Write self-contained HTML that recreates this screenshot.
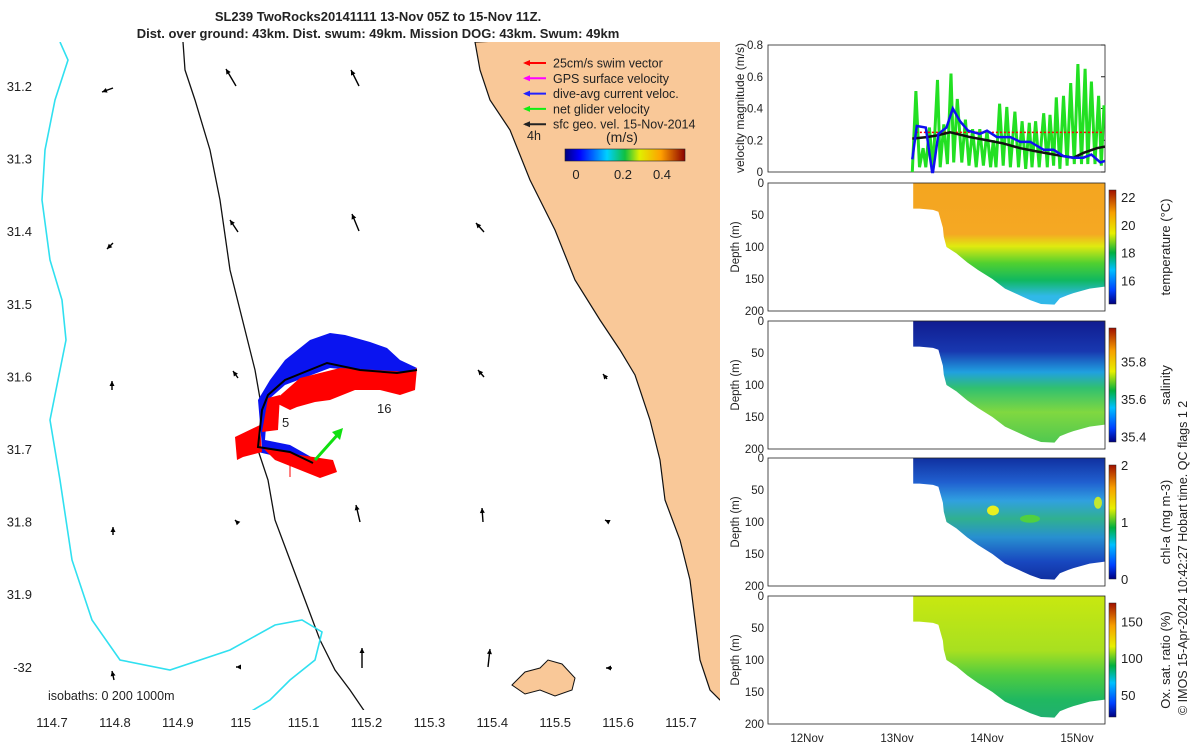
<!DOCTYPE html>
<html><head><meta charset="utf-8"><style>
body{margin:0;background:#fff;font-family:"Liberation Sans","DejaVu Sans",sans-serif}
svg text{font-family:"Liberation Sans","DejaVu Sans",sans-serif;fill:#222}
</style></head><body>
<svg id="fig" width="1200" height="750" viewBox="0 0 1200 750" xmlns="http://www.w3.org/2000/svg">
<defs>
<linearGradient id="jet" x1="0" x2="1" y1="0" y2="0"><stop offset="0" stop-color="#00007f"/><stop offset="0.12" stop-color="#0000ff"/><stop offset="0.35" stop-color="#00d0ff"/><stop offset="0.5" stop-color="#10c040"/><stop offset="0.62" stop-color="#e0f000"/><stop offset="0.8" stop-color="#ffa000"/><stop offset="1" stop-color="#8b0000"/></linearGradient>
<linearGradient id="jetv" x1="0" x2="0" y1="1" y2="0"><stop offset="0" stop-color="#00007f"/><stop offset="0.12" stop-color="#0040ff"/><stop offset="0.3" stop-color="#00c0ff"/><stop offset="0.45" stop-color="#00b040"/><stop offset="0.62" stop-color="#e8f000"/><stop offset="0.8" stop-color="#f8a000"/><stop offset="1" stop-color="#a01000"/></linearGradient>
<linearGradient id="gT" x1="0" x2="0" y1="0" y2="1"><stop offset="0" stop-color="#f4a520"/><stop offset="0.42" stop-color="#f5a823"/><stop offset="0.52" stop-color="#e0ea10"/><stop offset="0.66" stop-color="#50d030"/><stop offset="0.8" stop-color="#10b860"/><stop offset="0.93" stop-color="#30b8e8"/></linearGradient>
<linearGradient id="gS" x1="0" x2="0" y1="0" y2="1"><stop offset="0" stop-color="#101c90"/><stop offset="0.25" stop-color="#1838b0"/><stop offset="0.42" stop-color="#20a0e0"/><stop offset="0.55" stop-color="#30c070"/><stop offset="0.75" stop-color="#80d840"/><stop offset="1" stop-color="#50c850"/></linearGradient>
<linearGradient id="gC" x1="0" x2="0" y1="0" y2="1"><stop offset="0" stop-color="#1030a0"/><stop offset="0.2" stop-color="#2060d0"/><stop offset="0.35" stop-color="#30a0e0"/><stop offset="0.5" stop-color="#30b090"/><stop offset="0.65" stop-color="#2890d0"/><stop offset="0.85" stop-color="#1848c0"/><stop offset="1" stop-color="#1030a0"/></linearGradient>
<linearGradient id="gO" x1="0" x2="0" y1="0" y2="1"><stop offset="0" stop-color="#c8e810"/><stop offset="0.45" stop-color="#a8e020"/><stop offset="0.65" stop-color="#50cc40"/><stop offset="0.85" stop-color="#20b860"/><stop offset="1" stop-color="#20b070"/></linearGradient>
<clipPath id="mapclip"><rect x="37" y="42" width="683" height="668"/></clipPath>
</defs>
<g id="title">
<text x="378" y="21" text-anchor="middle" font-size="13" font-weight="bold">SL239 TwoRocks20141111 13-Nov 05Z to 15-Nov 11Z.</text>
<text x="378" y="38" text-anchor="middle" font-size="13" font-weight="bold">Dist. over ground: 43km. Dist. swum: 49km. Mission DOG: 43km. Swum: 49km</text>
</g>
<g id="map"></g>
<g id="right"></g>
<text transform="translate(1187,715) rotate(-90)" font-size="12.5">© IMOS 15-Apr-2024 10:42:27 Hobart time. QC flags 1  2</text>
</svg>
<script>
const NS="http://www.w3.org/2000/svg";
function mk(p,tag,a,txt){const e=document.createElementNS(NS,tag);for(const k in a)e.setAttribute(k,a[k]);if(txt!==undefined)e.textContent=txt;p.appendChild(e);return e;}
// ---------- Map ----------
const lonTicks=[114.7,114.8,114.9,115,115.1,115.2,115.3,115.4,115.5,115.6,115.7];
const latTicks=[31.2,31.3,31.4,31.5,31.6,31.7,31.8,31.9,32];
const latLabels=["31.2","31.3","31.4","31.5","31.6","31.7","31.8","31.9","-32"];
const mx=v=>52+(v-114.7)*629;
const my=v=>87+(v-31.2)*726;
const map=document.getElementById('map');
const mg=mk(map,'g',{'clip-path':'url(#mapclip)'});
const coast=[[475,42],[480,70],[490,100],[510,130],[530,180],[555,230],[575,280],[600,320],[620,350],[635,375],[650,420],[660,460],[665,500],[680,540],[690,580],[695,620],[700,660],[710,690],[720,700]];
let land=mk(mg,'path',{d:'M'+coast.map(p=>p.join(',')).join('L')+'L740,710L740,30Z',fill:'#f9c898',stroke:'#111','stroke-width':1.2});


let isl=mk(mg,'path',{d:'M512,685L525,672L540,668L548,660L562,664L575,678L572,690L555,696L540,690L525,694Z',fill:'#f9c898',stroke:'#111','stroke-width':1});


const iso200=[[183,42],[185,70],[195,100],[210,150],[220,200],[230,270],[245,330],[255,370],[262,410],[258,450],[268,480],[275,520],[290,560],[305,600],[320,640],[335,670],[350,690],[365,712]];
let i2=mk(mg,'path',{d:'M'+iso200.map(p=>p.join(',')).join('L'),fill:'none',stroke:'#111','stroke-width':1.3});


const iso1000=[[60,42],[68,60],[55,100],[45,150],[42,200],[50,260],[62,300],[66,340],[58,380],[50,420],[60,480],[72,560],[92,620],[120,660],[170,670],[230,650],[275,625],[302,620],[322,632],[315,660],[290,680],[270,700],[250,712]];
let i1=mk(mg,'path',{d:'M'+iso1000.map(p=>p.join(',')).join('L'),fill:'none',stroke:'#30e0f0','stroke-width':1.6});


// track
const tg=mk(mg,'g',{});


mk(tg,'polygon',{points:'262,447 258,400 270,380 285,360 310,340 330,333 345,335 370,342 387,348 400,360 417,368 405,375 330,368 285,385 268,400 265,440 290,445 313,458 313,465 258,452',fill:'#0a14f0'});
mk(tg,'polygon',{points:'275,400 300,378 340,368 410,372 417,368 415,390 400,395 380,390 355,390 330,400 315,402 297,407 290,410 270,400',fill:'#f00'});
mk(tg,'polygon',{points:'235,437 260,425 262,452 243,457 237,460',fill:'#f00'});
mk(tg,'polygon',{points:'262,447 300,455 333,460 337,472 320,478 300,470 275,460',fill:'#f00'});
mk(tg,'polygon',{points:'268,398 280,395 278,430 262,432',fill:'#f00'});
mk(tg,'polyline',{points:'313,463 290,452 258,447 262,410 268,395 285,380 327,363 360,370 397,373 417,370',fill:'none',stroke:'#000','stroke-width':2});
mk(tg,'line',{x1:290,y1:460,x2:290,y2:477,stroke:'#f00','stroke-width':1});
mk(tg,'line',{x1:315,y1:460,x2:340,y2:432,stroke:'#10e010','stroke-width':3});
mk(tg,'polygon',{points:'343,428 332,432 340,440',fill:'#10e010'});
mk(mg,'text',{x:282,y:427,'font-size':13},'5');
mk(mg,'text',{x:377,y:413,'font-size':13},'16');
// quiver arrows [x,y,dx,dy]
const arrows=[[113,88,-11,4],[236,86,-10,-17],[359,86,-8,-16],[238,232,-8,-12],[359,231,-7,-17],[484,232,-8,-9],[113,243,-6,6],[238,378,-5,-7],[484,377,-6,-7],[607,379,-4,-5],[112,390,0,-9],[113,535,0,-8],[237,522,-2,-2],[360,522,-4,-17],[483,522,-1,-14],[607,521,-2,-1],[114,680,-2,-9],[237,667,-1,0],[362,668,0,-20],[488,667,2,-18],[612,668,-6,0]];
arrows.forEach((a,i)=>{
 const g=mk(mg,'g',{});
 
 
 const ex=a[0]+a[2],ey=a[1]+a[3];
 mk(g,'line',{x1:a[0],y1:a[1],x2:ex,y2:ey,stroke:'#000','stroke-width':1.4});
 const L=Math.hypot(a[2],a[3])||1,ux=a[2]/L,uy=a[3]/L;
 mk(g,'polygon',{points:`${ex},${ey} ${ex-ux*5-uy*2.5},${ey-uy*5+ux*2.5} ${ex-ux*5+uy*2.5},${ey-uy*5-ux*2.5}`,fill:'#000'});
});
// legend
const lg=mk(map,'g',{});


const legItems=[["25cm/s swim vector","#f00"],["GPS surface velocity","#f0f"],["dive-avg current veloc.","#22f"],["net glider velocity","#1e1"],["sfc geo. vel. 15-Nov-2014","#222"]];
legItems.forEach((it,i)=>{const y=63+i*15.3;
 const g=mk(lg,'g',{});
 
 
 mk(g,'line',{x1:525,y1:y,x2:546,y2:y,stroke:it[1],'stroke-width':2});
 mk(g,'polygon',{points:`523,${y} 530,${y-3} 530,${y+3}`,fill:it[1]});
 mk(g,'text',{x:553,y:y+4.5,'font-size':12.5},it[0]);});
mk(lg,'text',{x:527,y:140,'font-size':12.5},'4h');
mk(lg,'text',{x:606,y:142,'font-size':14},'(m/s)');
const cb=mk(lg,'rect',{x:565,y:149,width:120,height:12,fill:'url(#jet)',stroke:'#222','stroke-width':0.6});


[["0",576],["0.2",623],["0.4",662]].forEach(t=>mk(lg,'text',{x:t[1],y:179,'font-size':13,'text-anchor':'middle'},t[0]));
mk(map,'text',{x:48,y:700,'font-size':12.5},'isobaths: 0   200  1000m');
lonTicks.forEach(v=>{const x=mx(v);mk(map,'text',{x:x,y:727,'font-size':13,'text-anchor':'middle'},String(v));});
latTicks.forEach((v,i)=>{const y=my(v);mk(map,'text',{x:32,y:y+4,'font-size':13,'text-anchor':'end'},latLabels[i]);});
// ---------- Right panels ----------
const R=document.getElementById('right');
const X0=768,X1=1105;
const tx=d=>807+(d-12)*90;
const dayTicks=[12,13,14,15],dayLabels=["12Nov","13Nov","14Nov","15Nov"];
const velTicks=[0,0.2,0.4,0.6,0.8];
const vy=v=>172-v*158.75;
const greenT=[13.17,13.21,13.25,13.29,13.32,13.36,13.40,13.45,13.48,13.52,13.56,13.60,13.63,13.67,13.72,13.76,13.80,13.84,13.88,13.92,13.96,14.00,14.04,14.07,14.10,14.14,14.18,14.22,14.26,14.31,14.35,14.39,14.43,14.47,14.50,14.54,14.58,14.63,14.67,14.70,14.74,14.77,14.81,14.85,14.89,14.93,14.97,15.01,15.05,15.09,15.12,15.16,15.20,15.24,15.27,15.30];
const greenV=[0.0,0.51,0.03,0.15,0.03,0.28,0.02,0.58,0.03,0.30,0.05,0.62,0.06,0.46,0.06,0.33,0.04,0.27,0.03,0.27,0.04,0.26,0.03,0.20,0.03,0.43,0.04,0.41,0.03,0.38,0.03,0.32,0.02,0.31,0.03,0.32,0.03,0.37,0.03,0.36,0.04,0.47,0.02,0.48,0.04,0.56,0.05,0.68,0.05,0.65,0.05,0.57,0.05,0.48,0.04,0.42];
const blueT=[13.17,13.22,13.32,13.39,13.40,13.46,13.55,13.62,13.70,13.79,13.92,14.00,14.11,14.26,14.37,14.48,14.63,14.74,14.85,14.96,15.07,15.16,15.26,15.31];
const blueV=[0.08,0.29,0.28,0.0,0.0,0.24,0.28,0.40,0.32,0.26,0.24,0.26,0.22,0.22,0.19,0.19,0.14,0.14,0.10,0.09,0.09,0.11,0.06,0.07];
const blackT=[13.17,13.33,13.44,13.59,13.81,14.00,14.18,14.37,14.55,14.74,14.96,15.07,15.22,15.31];
const blackV=[0.21,0.22,0.23,0.25,0.22,0.20,0.18,0.15,0.13,0.11,0.09,0.12,0.15,0.16];
const swimT=[13.21,15.30],swimV=[0.25,0.25];
const vp=mk(R,'g',{});


mk(vp,'rect',{x:X0,y:45,width:X1-X0,height:127,fill:'#fff',stroke:'#222','stroke-width':0.8});
velTicks.forEach(v=>{mk(vp,'text',{x:763,y:vy(v)+4,'font-size':11.5,'text-anchor':'end'},String(v));mk(vp,'line',{x1:X1-4,x2:X1,y1:vy(v),y2:vy(v),stroke:'#222'});});
const line=(T,V,c,w,dash,name)=>{const p=mk(vp,'polyline',{points:T.map((t,i)=>tx(t)+','+vy(V[i])).join(' '),fill:'none',stroke:c,'stroke-width':w});if(dash)p.setAttribute('stroke-dasharray',dash);};
line(greenT,greenV,'#22e022',3,null,'net-glider-velocity-line');
line(swimT,swimV,'#f00',1.5,'2,2','swim-speed-line');
line(blackT,blackV,'#111',2.5,null,'geo-velocity-line');
line(blueT,blueV,'#1010f0',2.5,null,'dive-avg-current-line');
mk(vp,'text',{transform:'translate(744,108) rotate(-90)','font-size':12,'text-anchor':'middle'},'velocity magnitude (m/s)');
const secT=[13.18,13.25,13.40,13.46,13.51,13.52,13.55,13.66,13.78,13.90,14.06,14.20,14.40,14.48,14.60,14.75,14.81,14.90,14.96,15.14,15.31];
const secBottom=[40,40,42,45,70,84,100,110,124,136,150,165,178,183,189,190,180,175,172,165,162];
const depthTicks=[0,50,100,150,200];
const panels=[
 {y:183,grad:'gT',cb:[14.3,22.5],ticks:[16,18,20,22],label:'temperature (°C)',name:'temperature-section'},
 {y:321,grad:'gS',cb:[35.37,35.98],ticks:[35.4,35.6,35.8],label:'salinity',name:'salinity-section'},
 {y:458,grad:'gC',cb:[0,2],ticks:[0,1,2],label:'chl-a (mg m-3)',name:'chla-section'},
 {y:596,grad:'gO',cb:[20,175],ticks:[50,100,150],label:'Ox. sat. ratio (%)',name:'oxygen-section'}];
panels.forEach((P,k)=>{
 const g=mk(R,'g',{});
 
 
 const H=128,dy=d=>P.y+d*H/200;
 let pts=secT.map(t=>tx(t)+','+dy(0)).join(' ')+' '+secT.slice().reverse().map((t,i)=>tx(t)+','+dy(secBottom[secT.length-1-i])).join(' ');
 mk(g,'polygon',{points:pts,fill:'url(#'+P.grad+')'});
 if(k==2){mk(g,'ellipse',{cx:993,cy:dy(82),rx:6,ry:5,fill:'#e8f020'});mk(g,'ellipse',{cx:1030,cy:dy(95),rx:10,ry:4,fill:'#50d040'});mk(g,'ellipse',{cx:1098,cy:dy(70),rx:4,ry:6,fill:'#c0e830'});}
 mk(g,'rect',{x:X0,y:P.y,width:X1-X0,height:H,fill:'none',stroke:'#222','stroke-width':0.8});
 depthTicks.forEach(d=>mk(g,'text',{x:764,y:dy(d)+4,'font-size':11.5,'text-anchor':'end'},String(d)));
 mk(g,'text',{transform:`translate(739,${P.y+64}) rotate(-90)`,'font-size':11.5,'text-anchor':'middle'},'Depth (m)');
 const cy0=P.y+7,cy1=P.y+H-7;
 const cbr=mk(g,'rect',{x:1109,y:cy0,width:7,height:cy1-cy0,fill:'url(#jetv)',stroke:'#222','stroke-width':0.5});
 
 
 P.ticks.forEach(v=>{const y=cy1-(v-P.cb[0])/(P.cb[1]-P.cb[0])*(cy1-cy0);mk(g,'text',{x:1121,y:y+5,'font-size':13},String(v));});
 mk(g,'text',{transform:`translate(1170,${P.y+64}) rotate(-90)`,'font-size':13,'text-anchor':'middle'},P.label);
});
dayTicks.forEach((d,i)=>{mk(R,'text',{x:tx(d),y:742,'font-size':11.5,'text-anchor':'middle'},dayLabels[i]);});
</script>
</body></html>
